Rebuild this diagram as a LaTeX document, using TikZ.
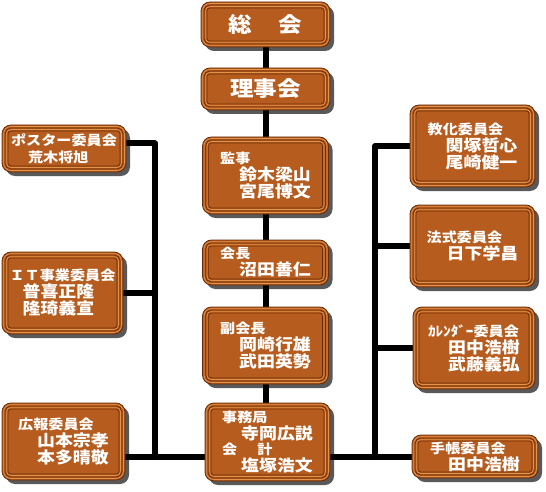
\documentclass[tikz,border=0pt]{standalone}
\usepackage{fontspec}
\setmainfont{Noto Sans CJK JP}[FakeStretch=1.12]
\usetikzlibrary{shadows,backgrounds}
\definecolor{cha}{RGB}{182,92,30}
\definecolor{chalight}{RGB}{228,148,74}
\definecolor{chadark}{RGB}{105,44,10}
\tikzset{
  hako/.style={rounded corners=9pt, fill=cha, draw=chadark, line width=.8pt,
    text=white, align=left, inner sep=0pt,
    font=\bfseries\fontsize{16}{17}\selectfont,
    drop shadow={shadow xshift=4pt, shadow yshift=-4pt, opacity=.65, fill=black}},
  midashi/.style={font=\bfseries\fontsize{21}{21}\selectfont},
  sen/.style={line width=6pt, black, line cap=round, line join=round},
}
\newcommand\yaku[1]{{\fontsize{13.5}{13}\selectfont #1}}
\newcommand\waku[1]{%
  \foreach \d/\r/\c in {2/7/chalight,3.5/5.5/chadark,5/4/chalight,6.5/2.5/chadark}{%
    \draw[\c, line width=.7pt, rounded corners=\r pt]
      ([shift={(\d pt,-\d pt)}]#1.north west) rectangle ([shift={(-\d pt,\d pt)}]#1.south east);}}
\begin{document}
\begin{tikzpicture}[x=1pt, y=-1pt, line join=round, line cap=round]
\useasboundingbox (0,0) rectangle (546,492);
% 中央
\node[hako, midashi, minimum width=129pt, minimum height=45pt] (soukai) at (265.5,24.5) {総\hspace{26pt}会};
\node[hako, midashi, minimum width=129pt, minimum height=42pt] (rijikai) at (265.5,89) {理事会};
\node[hako, minimum width=126pt, minimum height=77pt] (kanji) at (265.5,175.5)
  {\yaku{監事}\\\hspace*{19pt}鈴木梁山\\\hspace*{19pt}宮尾博文};
\node[hako, minimum width=126pt, minimum height=45pt] (kaicho) at (265.5,262.5)
  {\yaku{会長}\\\hspace*{19pt}沼田善仁};
\node[hako, minimum width=126pt, minimum height=77pt] (fukukaicho) at (265.5,345.5)
  {\yaku{副会長}\\\hspace*{19pt}岡崎行雄\\\hspace*{19pt}武田英勢};
\node[hako, minimum width=125pt, minimum height=78pt] (jimukyoku) at (267.5,442)
  {\yaku{事務局}\\\hspace*{19pt}寺岡広説\\[-2pt]\yaku{会\hspace*{20pt}計}\\\hspace*{19pt}塩塚浩文};
% 左
\node[hako, minimum width=124pt, minimum height=47pt] (poster) at (64,148.5)
  {\yaku{ポスター委員会}\\\hspace*{17pt}{\fontsize{13.5}{13}\selectfont 荒木将旭}};
\node[hako, minimum width=121pt, minimum height=82pt] (itjigyo) at (62.5,293)
  {\yaku{ＩＴ事業委員会}\\\hspace*{13pt}普喜正隆\\\hspace*{13pt}隆琦義宣};
\node[hako, minimum width=123pt, minimum height=77pt] (koho) at (63.5,441.5)
  {\yaku{広報委員会}\\\hspace*{19pt}山本宗孝\\\hspace*{19pt}本多晴敬};
% 右
\node[hako, minimum width=125pt, minimum height=82pt] (kyoka) at (472.5,146)
  {\yaku{教化委員会}\\\hspace*{18pt}関塚哲心\\\hspace*{18pt}尾崎健一};
\node[hako, minimum width=125pt, minimum height=82pt] (hoshiki) at (472.5,246)
  {\yaku{法式委員会}\\\hspace*{20pt}日下学昌};
\node[hako, minimum width=122pt, minimum height=82pt] (calendar) at (474,348)
  {\yaku{ｶﾚﾝﾀﾞｰ委員会}\\\hspace*{20pt}田中浩樹\\\hspace*{20pt}武藤義弘};
\node[hako, minimum width=126pt, minimum height=43pt] (techo) at (475,456.5)
  {\yaku{手帳委員会}\\\hspace*{18pt}田中浩樹};
\foreach \n in {soukai,rijikai,kanji,kaicho,fukukaicho,jimukyoku,poster,itjigyo,koho,kyoka,hoshiki,calendar,techo}
  {\waku{\n}}
\coordinate (hidari) at (155,457);
\coordinate (migi) at (375,457);
\begin{scope}[on background layer]
\draw[sen] (soukai) -- (soukai |- jimukyoku);
\draw[sen] ([yshift=5pt]poster.east) -| (hidari);
\draw[sen] (itjigyo.east) -- (itjigyo.east -| hidari);
\draw[sen] (koho.east |- hidari) -- (jimukyoku.west |- hidari);
\draw[sen] (kyoka.west) -| (migi);
\draw[sen] (hoshiki.west) -- (hoshiki.west -| migi);
\draw[sen] (calendar.west) -- (calendar.west -| migi);
\draw[sen] (jimukyoku.east |- migi) -- (techo.west |- migi);
\end{scope}
\end{tikzpicture}
\end{document}
